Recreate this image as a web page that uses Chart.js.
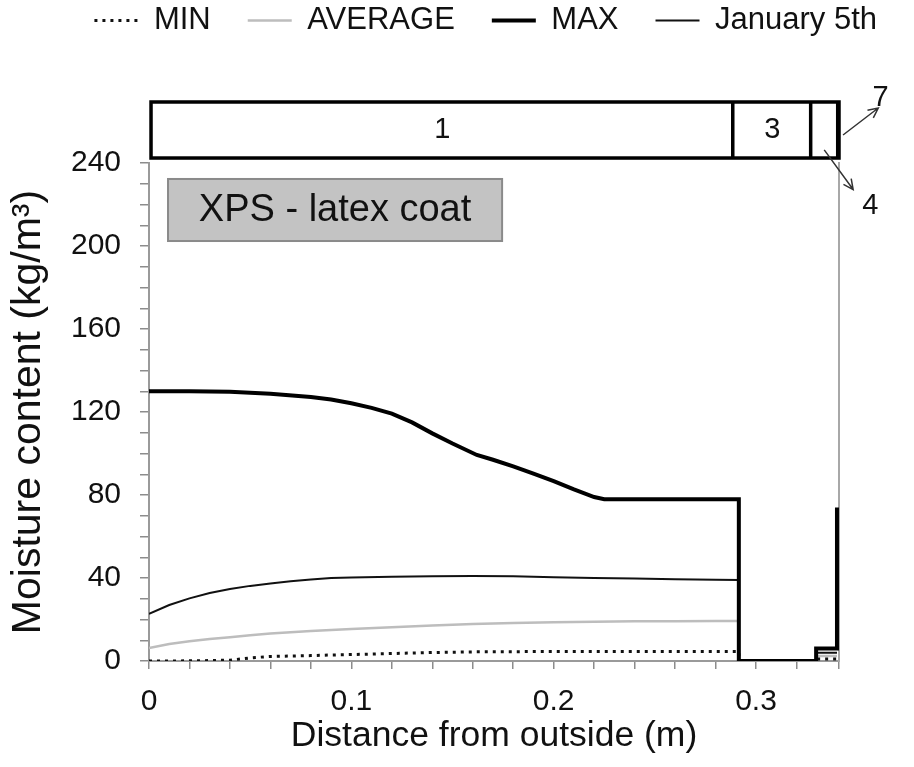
<!DOCTYPE html>
<html>
<head>
<meta charset="utf-8">
<script src="https://cdn.jsdelivr.net/npm/chart.js@4.4.0/dist/chart.umd.min.js"></script>
<style>
  body { margin: 0; background: #fff; }
  #wrap { width: 914px; height: 767px; }
</style>
</head>
<body>
<div id="wrap"><canvas id="chart"></canvas></div>
<script>
// distance from outside (m) shared by MIN, AVERAGE and January 5th
const dist = [0, 0.01, 0.02, 0.03, 0.04, 0.05, 0.06, 0.07, 0.08, 0.09, 0.10, 0.12, 0.14, 0.16, 0.18,
  0.20, 0.22, 0.24, 0.26, 0.28, 0.2915, 0.2915, 0.3297, 0.3297, 0.3400];
const minMc = [0, 0, 0.1, 0.2, 0.4, 1.5, 2.2, 2.4, 2.6, 2.9, 3.1, 3.6, 4.1, 4.4, 4.5,
  4.6, 4.6, 4.6, 4.6, 4.6, 4.6, 0, 0, 1, 1];
const avgMc = [6.3, 8.2, 9.5, 10.6, 11.5, 12.4, 13.2, 13.8, 14.4, 14.9, 15.4, 16.3, 17.1, 17.8, 18.3,
  18.7, 18.9, 19.1, 19.2, 19.3, 19.3, 0, 0, 2.4, 2.4];
const janMc = [22.7, 27, 30.2, 32.8, 34.7, 36.2, 37.4, 38.4, 39.3, 40, 40.3, 40.6, 40.9, 41, 40.8,
  40.4, 40, 39.7, 39.4, 39.2, 39, 0, 0, 4, 4];

// MAX has its own distances (kink around 0.16 m)
const maxDist = [0, 0.02, 0.04, 0.06, 0.08, 0.09, 0.10, 0.11, 0.12, 0.13, 0.14, 0.15, 0.162, 0.17,
  0.18, 0.19, 0.20, 0.21, 0.22, 0.225, 0.2915, 0.2915, 0.3297, 0.3297, 0.3400, 0.3400];
const maxMc = [130, 130, 129.7, 128.8, 127.2, 126, 124.2, 122, 119.2, 115, 109.7, 104.8, 99.3, 97,
  93.8, 90.3, 86.7, 82.7, 79, 78, 78, 0, 0, 6, 6, 74];

const seriesNames = ['MIN', 'AVERAGE', 'MAX', 'January 5th'];

const FONT = '"Liberation Sans", Arial, Helvetica, sans-serif';
const pts = (xs, ys) => xs.map((x, i) => ({x: x, y: ys[i]}));

// strip with layer numbers + the grey material label
const layerBox = {
  id: 'layerBox',
  afterDraw(chart) {
    const {ctx, scales: {x, y}} = chart;
    const px = v => x.getPixelForValue(v);
    const py = v => y.getPixelForValue(v);
    ctx.save();
    const top = py(269.4), bot = py(242.4);
    ctx.fillStyle = '#000';
    ctx.fillRect(px(0.3395), top, px(0.341) - px(0.3395), bot - top);
    ctx.strokeStyle = '#000';
    ctx.lineWidth = 3.5;
    ctx.strokeRect(px(0.001), top, px(0.341) - px(0.001), bot - top);
    [0.2885, 0.327].forEach(d => {
      ctx.beginPath();
      ctx.moveTo(px(d), top);
      ctx.lineTo(px(d), bot);
      ctx.stroke();
    });
    ctx.fillStyle = '#111';
    ctx.font = '29px ' + FONT;
    ctx.textAlign = 'center';
    ctx.textBaseline = 'middle';
    ctx.fillText('1', px(0.145), py(256));
    ctx.fillText('3', px(0.308), py(256));
    ctx.fillText('7', px(0.3615), py(271.5));
    ctx.fillText('4', px(0.3565), py(219.5));

    const arrow = (x0, y0, x1, y1) => {
      const a = px(x0), b = py(y0), c = px(x1), d = py(y1);
      const ang = Math.atan2(d - b, c - a);
      ctx.beginPath();
      ctx.moveTo(a, b);
      ctx.lineTo(c, d);
      ctx.moveTo(c - 11 * Math.cos(ang - 0.45), d - 11 * Math.sin(ang - 0.45));
      ctx.lineTo(c, d);
      ctx.lineTo(c - 11 * Math.cos(ang + 0.45), d - 11 * Math.sin(ang + 0.45));
      ctx.stroke();
    };
    ctx.strokeStyle = '#333';
    ctx.lineWidth = 1.5;
    arrow(0.343, 253.5, 0.3604, 266.5);
    arrow(0.3337, 246.3, 0.348, 227.2);

    const l = px(0.0094), r = px(0.1745), t = py(232.3), b = py(202.4);
    ctx.fillStyle = '#c3c3c3';
    ctx.fillRect(l, t, r - l, b - t);
    ctx.strokeStyle = '#8a8a8a';
    ctx.lineWidth = 2;
    ctx.strokeRect(l, t, r - l, b - t);
    ctx.fillStyle = '#111';
    ctx.font = '38px ' + FONT;
    ctx.fillText('XPS - latex coat', (l + r) / 2, (t + b) / 2 + 1);
    ctx.restore();
  }
};

// legend is given the whole band above the plot, then nudged up
const legendBand = {
  id: 'legendBand',
  beforeInit(chart) {
    const fit = chart.legend.fit;
    chart.legend.fit = function () {
      fit.call(this);
      this.height = 163;
    };
  },
  afterLayout(chart) {
    chart.legend.top = -32;
  }
};

const ctx = document.getElementById('chart');
new Chart(ctx, {
  type: 'line',
  data: {
    datasets: [
      { label: seriesNames[0], data: pts(dist, minMc), borderColor: '#111', borderWidth: 3,
        borderDash: [3, 5], order: 2 },
      { label: seriesNames[1], data: pts(dist, avgMc), borderColor: '#bdbdbd', borderWidth: 2.5,
        order: 3 },
      { label: seriesNames[2], data: pts(maxDist, maxMc), borderColor: '#000', borderWidth: 4,
        order: 0 },
      { label: seriesNames[3], data: pts(dist, janMc), borderColor: '#111', borderWidth: 2,
        order: 1 }
    ]
  },
  options: {
    responsive: true,
    maintainAspectRatio: false,
    animation: false,
    elements: { point: { radius: 0 }, line: { tension: 0, fill: false } },
    layout: { padding: 0 },
    plugins: {
      tooltip: { enabled: false },
      legend: {
        position: 'top',
        align: 'end',
        labels: {
          usePointStyle: true,
          pointStyle: 'line',
          pointStyleWidth: 44,
          padding: 37,
          color: '#111',
          font: { family: FONT, size: 31, lineHeight: 1 },
          sort: (a, b) => a.datasetIndex - b.datasetIndex,
          generateLabels: chart =>
            Chart.defaults.plugins.legend.labels.generateLabels(chart).map(item => {
              const ds = chart.data.datasets[item.datasetIndex];
              item.lineWidth = ds.borderWidth;
              item.lineDash = ds.borderDash || [];
              item.strokeStyle = ds.borderColor;
              return item;
            })
        }
      }
    },
    scales: {
      x: {
        type: 'linear',
        min: 0,
        max: 0.341,
        afterFit: s => { s.height = 106; },
        ticks: {
          stepSize: 0.02,
          autoSkip: false,
          maxRotation: 0,
          padding: 15,
          color: '#111',
          font: { family: FONT, size: 30 },
          callback: v => Math.abs(v * 10 - Math.round(v * 10)) < 1e-6 ? String(+v.toFixed(1)) : ''
        },
        grid: { drawOnChartArea: false, tickLength: 8, color: '#8c8c8c', lineWidth: 1.5 },
        border: { color: '#9a9a9a', width: 2 },
        title: { display: true, text: 'Distance from outside (m)', color: '#111',
          font: { family: FONT, size: 35.5 }, padding: { top: 0, bottom: 9 } }
      },
      y: {
        min: 0,
        max: 240,
        afterFit: s => { s.width = 149; },
        ticks: {
          stepSize: 10,
          autoSkip: false,
          padding: 19,
          color: '#111',
          font: { family: FONT, size: 30 },
          callback: v => v % 40 === 0 ? v : ''
        },
        grid: { drawOnChartArea: false, tickLength: 9, color: '#8c8c8c', lineWidth: 1.5 },
        border: { color: '#9a9a9a', width: 2 },
        title: { display: true, text: 'Moisture content (kg/m³)', color: '#111',
          font: { family: FONT, size: 41 }, padding: { top: 4, bottom: 0 } }
      },
      y2: {
        position: 'right',
        min: 0,
        max: 240,
        afterFit: s => { s.width = 75; },
        ticks: { display: false },
        grid: { display: false },
        border: { color: '#a8a8a8', width: 2 }
      }
    }
  },
  plugins: [legendBand, layerBox]
});
</script>
</body>
</html>
